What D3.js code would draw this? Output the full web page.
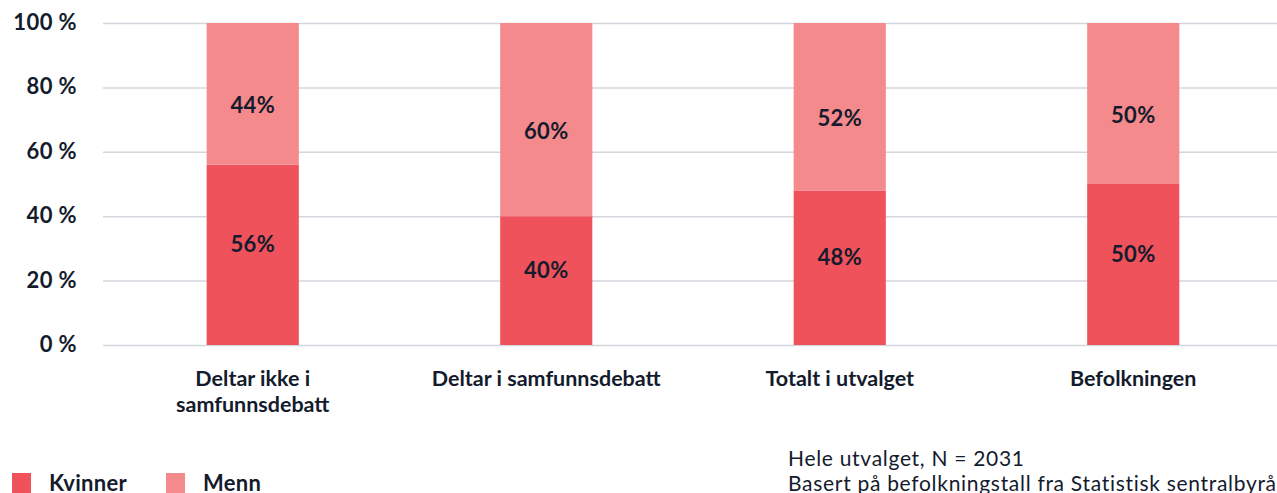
<!DOCTYPE html>
<html>
<head>
<meta charset="utf-8">
<script src="https://cdn.jsdelivr.net/npm/d3@7"></script>
<style>
  body { margin: 0; background: #fff; }
  svg { display: block; font-family: Lato, "Noto Sans", sans-serif; }
</style>
</head>
<body>
<svg id="chart" width="1277" height="493"></svg>
<script>
const categories = [['Deltar ikke i', 'samfunnsdebatt'], ['Deltar i samfunnsdebatt'], ['Totalt i utvalget'], ['Befolkningen']];
const kvinner = [56, 40, 48, 50];
const menn = [44, 60, 52, 50];
const yTicks = [0, 20, 40, 60, 80, 100];
const seriesNames = ['Kvinner', 'Menn'];
const footnote = ['Hele utvalget, N = 2031', 'Basert på befolkningstall fra Statistisk sentralbyrå'];

const colors = ['#ef525b', '#f48a8c'];
const ink = '#141b2d';

const svg = d3.select('#chart');

const x = d3.scaleBand()
  .domain(d3.range(categories.length))
  .range([106, 1280])
  .paddingInner(0.686)
  .paddingOuter(0.343);

const y = d3.scaleLinear().domain([0, 100]).range([345, 23]);

// grid

svg.append('g')
  .selectAll('line')
  .data(yTicks)
  .join('line')
  .attr('x1', 103)
  .attr('x2', 1277)
  .attr('y1', d => y(d) + 0.5)
  .attr('y2', d => y(d) + 0.5)
  .attr('stroke', '#d3d6dc')
  .attr('stroke-width', 1.5);

svg.append('g')
  .selectAll('text')
  .data(yTicks)
  .join('text')
  .attr('x', 77)
  .attr('y', d => y(d) + 7)
  .attr('text-anchor', 'end')
  .attr('font-size', 22)
  .attr('font-weight', 700)
  .attr('letter-spacing', 0.4)
  .attr('fill', ink)
  .text(d => `${d} %`);

// stacked bars

const rows = categories.map((c, i) => ({ i, kvinner: kvinner[i], menn: menn[i] }));
const stack = d3.stack().keys(['kvinner', 'menn'])(rows);

const layers = svg.append('g')
  .selectAll('g')
  .data(stack)
  .join('g')
  .attr('fill', (d, i) => colors[i]);

layers.selectAll('rect')
  .data(d => d)
  .join('rect')
  .attr('x', d => x(d.data.i))
  .attr('width', x.bandwidth())
  .attr('y', d => y(d[1]))
  .attr('height', d => y(d[0]) - y(d[1]));

// value labels (bottom segment sits a bit high, top segment a bit low)

layers.each(function (layer, li) {
  d3.select(this).selectAll('text')
    .data(layer)
    .join('text')
    .attr('x', d => x(d.data.i) + x.bandwidth() / 2)
    .attr('y', d => (y(d[0]) + y(d[1])) / 2 + (li === 0 ? -11 : 11) + 8)
    .attr('text-anchor', 'middle')
    .attr('font-size', 22)
    .attr('font-weight', 700)
    .attr('letter-spacing', 0.4)
    .attr('fill', ink)
    .text(d => `${d[1] - d[0]}%`);
});

// category labels

svg.append('g')
  .selectAll('text')
  .data(categories)
  .join('text')
  .attr('x', (d, i) => x(i) + x.bandwidth() / 2)
  .attr('y', 386)
  .attr('text-anchor', 'middle')
  .attr('font-size', 21.5)
  .attr('font-weight', 700)
  .attr('fill', ink)
  .selectAll('tspan')
  .data(d => d)
  .join('tspan')
  .attr('x', function () { return d3.select(this.parentNode).attr('x'); })
  .attr('dy', (d, i) => i === 0 ? 0 : 26)
  .text(d => d);

// legend

const legend = svg.append('g')
  .selectAll('g')
  .data(seriesNames)
  .join('g')
  .attr('transform', (d, i) => `translate(${12 + i * 154}, 473)`);

legend.append('rect')
  .attr('width', 19)
  .attr('height', 20)
  .attr('fill', (d, i) => colors[i]);

legend.append('text')
  .attr('x', 37)
  .attr('y', 18)
  .attr('font-size', 22)
  .attr('font-weight', 700)
  .attr('letter-spacing', 0.3)
  .attr('fill', ink)
  .text(d => d);

// footnote

svg.append('g')
  .selectAll('text')
  .data(footnote)
  .join('text')
  .attr('x', 788)
  .attr('y', (d, i) => 466 + i * 25)
  .attr('font-size', 21)
  .attr('letter-spacing', 0.7)
  .attr('fill', ink)
  .text(d => d);
</script>
</body>
</html>
